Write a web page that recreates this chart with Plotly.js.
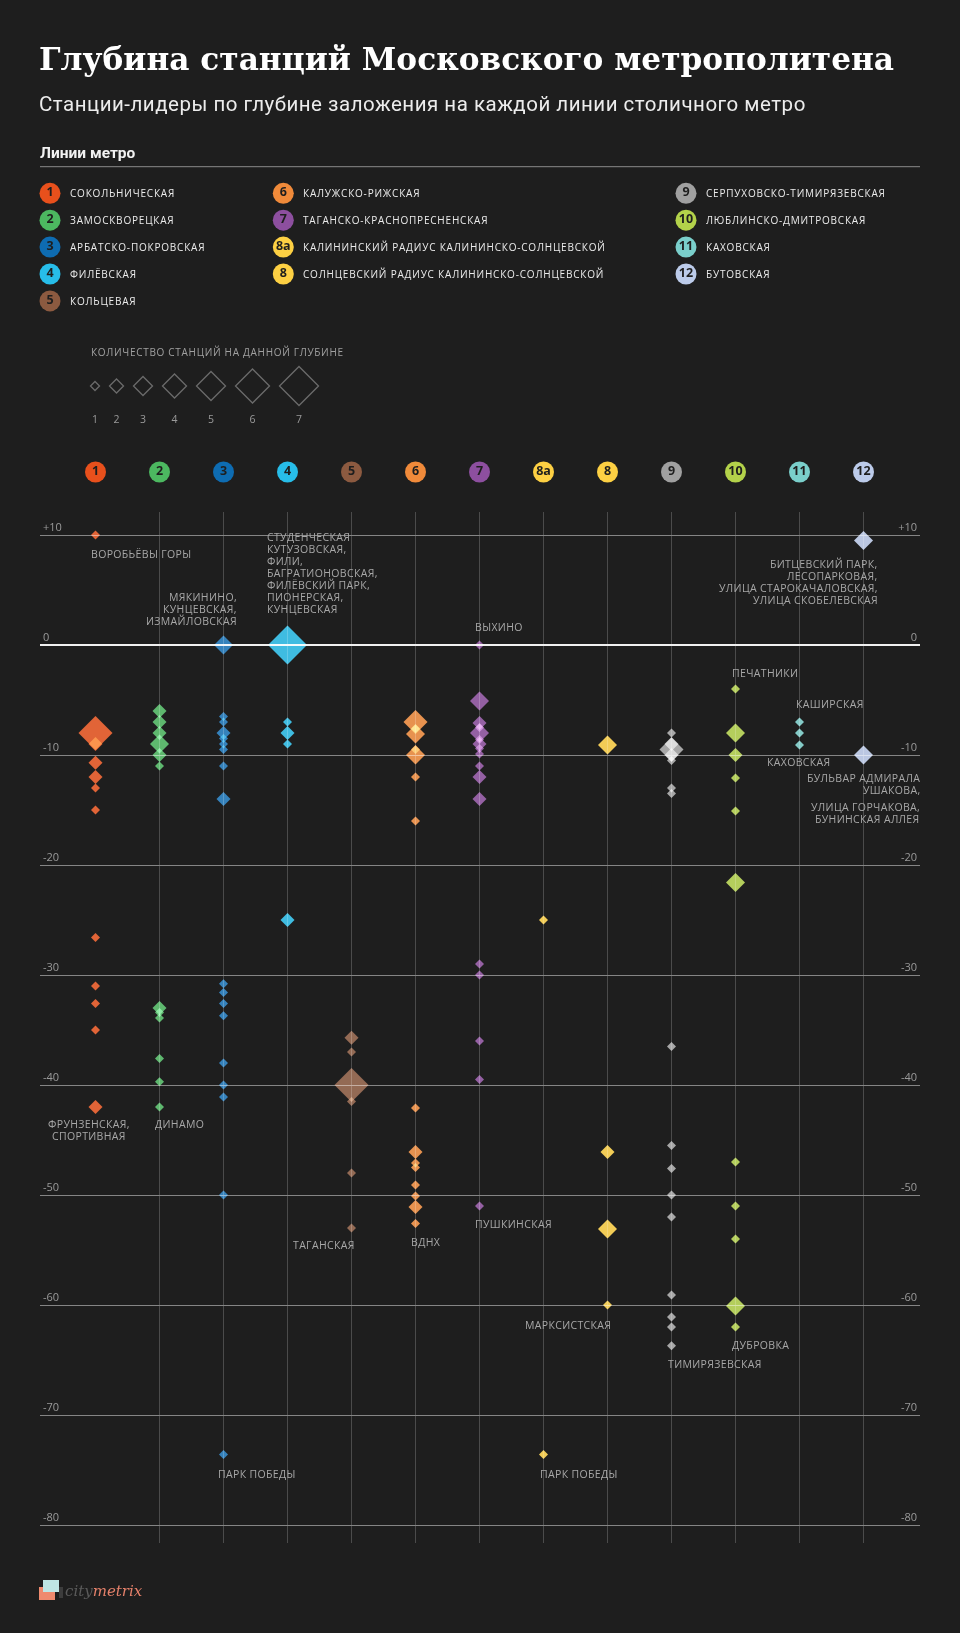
<!DOCTYPE html>
<html lang="ru">
<head>
<meta charset="utf-8">
<title>Глубина станций Московского метрополитена</title>
<script src="https://cdn.plot.ly/plotly-3.0.1.min.js"></script>
<style>
  html, body { margin:0; padding:0; background:#1e1e1e; }
  #chart { width:960px; height:1633px; }
  g[class*="tracedepth"] path.point { mix-blend-mode: screen; }
</style>
</head>
<body>
<div id="chart"></div>
<script>
// ================= DATA =================
const lines = ['1','2','3','4','5','6','7','8а','8','9','10','11','12'];
const lineNames = [
  'СОКОЛЬНИЧЕСКАЯ','ЗАМОСКВОРЕЦКАЯ','АРБАТСКО-ПОКРОВСКАЯ','ФИЛЁВСКАЯ','КОЛЬЦЕВАЯ',
  'КАЛУЖСКО-РИЖСКАЯ','ТАГАНСКО-КРАСНОПРЕСНЕНСКАЯ','КАЛИНИНСКИЙ РАДИУС КАЛИНИНСКО-СОЛНЦЕВСКОЙ',
  'СОЛНЦЕВСКИЙ РАДИУС КАЛИНИНСКО-СОЛНЦЕВСКОЙ','СЕРПУХОВСКО-ТИМИРЯЗЕВСКАЯ','ЛЮБЛИНСКО-ДМИТРОВСКАЯ',
  'КАХОВСКАЯ','БУТОВСКАЯ'
];

// depth of station (m) and number of stations at that depth, per line
const depth_1  = [10, -8, -9, -10.7, -12, -13, -15, -26.6, -31, -32.6, -35, -42];
const count_1  = [1, 6, 2, 2, 2, 1, 1, 1, 1, 1, 1, 2];
const depth_2  = [-6, -7, -8, -9, -10, -11, -33, -33.4, -33.9, -37.6, -39.7, -42];
const count_2  = [2, 2, 2, 3, 2, 1, 2, 1, 1, 1, 1, 1];
const depth_3  = [0, -6.5, -7, -8, -8.5, -9, -9.5, -11, -14, -30.8, -31.6, -32.6, -33.7, -38, -40, -41.1, -50, -73.6];
const count_3  = [3, 1, 1, 2, 1, 1, 1, 1, 2, 1, 1, 1, 1, 1, 1, 1, 1, 1];
const depth_4  = [0, -7, -8, -9, -25];
const count_4  = [7, 1, 2, 1, 2];
const depth_5  = [-35.7, -37, -40, -41.5, -48, -53];
const count_5  = [2, 1, 6, 1, 1, 1];
const depth_6  = [-7, -7.6, -8.1, -9.5, -10, -12, -16, -42.1, -46.1, -47.1, -47.5, -49.1, -50.1, -51.1, -52.6];
const count_6  = [4, 1, 3, 1, 3, 1, 1, 1, 2, 1, 1, 1, 1, 2, 1];
const depth_7  = [0, -5.1, -7.1, -7.5, -8, -8.6, -9, -9.4, -9.9, -11, -12, -14, -29, -30, -36, -39.5, -51];
const count_7  = [1, 3, 2, 1, 3, 1, 2, 1, 1, 1, 2, 2, 1, 1, 1, 1, 1];
const depth_8a = [-25, -73.6];
const count_8a = [1, 1];
const depth_8  = [-9.1, -46.1, -53.1, -60];
const count_8  = [3, 2, 3, 1];
const depth_9  = [-8, -9, -9.5, -10, -10.5, -13, -13.5, -36.5, -45.5, -47.6, -50, -52, -59.1, -61.1, -62, -63.7];
const count_9  = [1, 2, 4, 2, 1, 1, 1, 1, 1, 1, 1, 1, 1, 1, 1, 1];
const depth_10 = [-4, -8, -10, -12.1, -15.1, -21.6, -47, -51, -54, -60.1, -62];
const count_10 = [1, 3, 2, 1, 1, 3, 1, 1, 1, 3, 1];
const depth_11 = [-7, -8, -9.1];
const count_11 = [1, 1, 1];
const depth_12 = [9.5, -10];
const count_12 = [3, 3];

const depths = [depth_1, depth_2, depth_3, depth_4, depth_5, depth_6, depth_7, depth_8a, depth_8, depth_9, depth_10, depth_11, depth_12];
const counts = [count_1, count_2, count_3, count_4, count_5, count_6, count_7, count_8a, count_8, count_9, count_10, count_11, count_12];

const tickVals = [10, 0, -10, -20, -30, -40, -50, -60, -70, -80];
const tickText = ['+10', '0', '-10', '-20', '-30', '-40', '-50', '-60', '-70', '-80'];

const sizeLegendTitle = 'КОЛИЧЕСТВО СТАНЦИЙ НА ДАННОЙ ГЛУБИНЕ';
const sizeLegendCounts = [1, 2, 3, 4, 5, 6, 7];

const stationLabels = [
  ['ВОРОБЬЁВЫ ГОРЫ'],
  ['СТУДЕНЧЕСКАЯ','КУТУЗОВСКАЯ,','ФИЛИ,','БАГРАТИОНОВСКАЯ,','ФИЛЁВСКИЙ ПАРК,','ПИОНЕРСКАЯ,','КУНЦЕВСКАЯ'],
  ['МЯКИНИНО,','КУНЦЕВСКАЯ,','ИЗМАЙЛОВСКАЯ'],
  ['ВЫХИНО'],
  ['БИТЦЕВСКИЙ ПАРК,','ЛЕСОПАРКОВАЯ,','УЛИЦА СТАРОКАЧАЛОВСКАЯ,','УЛИЦА СКОБЕЛЕВСКАЯ'],
  ['ПЕЧАТНИКИ'],
  ['КАШИРСКАЯ'],
  ['КАХОВСКАЯ'],
  ['БУЛЬВАР АДМИРАЛА','УШАКОВА,'],
  ['УЛИЦА ГОРЧАКОВА,','БУНИНСКАЯ АЛЛЕЯ'],
  ['ФРУНЗЕНСКАЯ,','СПОРТИВНАЯ'],
  ['ДИНАМО'],
  ['ТАГАНСКАЯ'],
  ['ВДНХ'],
  ['ПУШКИНСКАЯ'],
  ['МАРКСИСТСКАЯ'],
  ['ДУБРОВКА'],
  ['ТИМИРЯЗЕВСКАЯ'],
  ['ПАРК ПОБЕДЫ'],
  ['ПАРК ПОБЕДЫ']
];

const titleText = 'Глубина станций Московского метрополитена';
const subtitleText = 'Станции-лидеры по глубине заложения на каждой линии столичного метро';
const legendTitle = 'Линии метро';

// ================= STYLE / LAYOUT =================
const W = 960, H = 1633;
const lineColors = ['#e9531d','#4cb860','#1b77bd','#27bde9','#8c5a40','#f18b3b','#8d4f9f',
                    '#fdd043','#fdd043','#a3a3a3','#b3d24a','#7acfcb','#bccbea'];
const badgeColors = ['#e8501c','#4cb860','#0e6cb2','#27bde9','#8c5a40','#f08a3a','#8d4f9f',
                     '#fdd043','#fdd043','#a0a0a0','#b3d24a','#7acfcb','#bccbea'];

const Y0PX = 645, PXPERM = 11;
const yOf = py => (Y0PX - py) / PXPERM;
const yRange = [yOf(H), yOf(0)];
const PLOT_L = 40, PLOT_R = 920, COL0 = 95.5, COLSTEP = 64;
const xRange = [(PLOT_L - COL0) / COLSTEP, (PLOT_R - COL0) / COLSTEP];
const sizeFor = n => (2 + 2.5 * n) / 0.65;

const LABEL_FONT = {family: 'Open Sans, Noto Sans, sans-serif', size: 10.5, color: '#a8a8a8'};
const spaced = (t, s) => '<span style="letter-spacing:' + s + 'px">' + t + '</span>';

function ann(text, x, y, anchor, font) {
  return {xref: 'paper', yref: 'paper', x: x / W, y: 1 - y / H, text: text, showarrow: false,
          xanchor: anchor || 'left', yanchor: 'middle', borderpad: 0, borderwidth: 0, font: font};
}

// label layout (pixel anchor of first line, alignment)
const labelPos = [
  {x: 91,    y: 554.3, a: 'left'},
  {x: 266.7, y: 536.7, a: 'left'},
  {x: 236.5, y: 597,   a: 'right'},
  {x: 475,   y: 626.7, a: 'left'},
  {x: 878.3, y: 564.3, a: 'right'},
  {x: 731.7, y: 673.3, a: 'left'},
  {x: 796,   y: 704.3, a: 'left'},
  {x: 767.3, y: 761.7, a: 'left'},
  {x: 920,   y: 777.7, a: 'right'},
  {x: 920,   y: 807.3, a: 'right'},
  {x: 88.5,  y: 1124.3, a: 'center'},
  {x: 155,   y: 1124.3, a: 'left'},
  {x: 355,   y: 1245,  a: 'right'},
  {x: 411,   y: 1241.7, a: 'left'},
  {x: 475,   y: 1224,  a: 'left'},
  {x: 611,   y: 1324.7, a: 'right'},
  {x: 732,   y: 1344.7, a: 'left'},
  {x: 667.5, y: 1363.7, a: 'left'},
  {x: 218,   y: 1473.7, a: 'left'},
  {x: 539.5, y: 1473.7, a: 'left'}
];
const LABEL_LINE = 12;

const traces = [];

// depth markers
lines.forEach((ln, i) => {
  traces.push({
    type: 'scatter', mode: 'markers', uid: 'depth' + i,
    x: depths[i].map(() => ln), y: depths[i],
    marker: {symbol: 'diamond', size: counts[i].map(sizeFor), color: lineColors[i], opacity: 0.95, line: {width: 0}},
    xaxis: 'x', yaxis: 'y', hoverinfo: 'skip', showlegend: false, cliponaxis: false
  });
});

// column header badges
const HEADER_Y = yOf(472);
traces.push({
  type: 'scatter', mode: 'markers+text', x: lines, y: lines.map(() => HEADER_Y),
  text: lines, textposition: 'middle center',
  textfont: {family: 'Open Sans, sans-serif', size: 12.5, color: '#1e1e1e', weight: 700},
  marker: {symbol: 'circle', size: 21, color: badgeColors, line: {width: 0}},
  xaxis: 'x', yaxis: 'y', hoverinfo: 'skip', showlegend: false, cliponaxis: false
});

// right-hand axis labels carrier
traces.push({type: 'scatter', mode: 'markers', x: [], y: [], xaxis: 'x', yaxis: 'y2', showlegend: false, hoverinfo: 'skip'});

// line legend (pixel overlay axes)
const legendCols = [{start: 0, n: 5, cx: 50}, {start: 5, n: 4, cx: 283.3}, {start: 9, n: 4, cx: 686}];
const LEG_Y0 = 193.3, LEG_STEP = 26.9;
const legX = [], legY = [];
lines.forEach((ln, i) => {
  const c = legendCols.find(cc => i >= cc.start && i < cc.start + cc.n);
  legX.push(c.cx); legY.push(LEG_Y0 + (i - c.start) * LEG_STEP);
});
traces.push({
  type: 'scatter', mode: 'markers+text', x: legX, y: legY, text: lines, textposition: 'middle center',
  textfont: {family: 'Open Sans, sans-serif', size: 12.5, color: '#1e1e1e', weight: 700},
  marker: {symbol: 'circle', size: 21, color: badgeColors, line: {width: 0}},
  xaxis: 'x2', yaxis: 'y3', hoverinfo: 'skip', showlegend: false, cliponaxis: false
});

// size legend
const SL_Y = 386, SL_NUM_Y = 420, SL_X0 = 95, SL_GAP = 10;
const slX = [];
sizeLegendCounts.forEach((n, i) => {
  if (i === 0) slX.push(SL_X0);
  else {
    const hPrev = sizeFor(sizeLegendCounts[i - 1]) * 0.65, h = sizeFor(n) * 0.65;
    slX.push(slX[i - 1] + hPrev + h + SL_GAP);
  }
});
traces.push({
  type: 'scatter', mode: 'markers', x: slX, y: slX.map(() => SL_Y),
  marker: {symbol: 'diamond-open', size: sizeLegendCounts.map(sizeFor), color: '#8c8c8c', line: {width: 1.3, color: '#8c8c8c'}},
  xaxis: 'x2', yaxis: 'y3', hoverinfo: 'skip', showlegend: false, cliponaxis: false
});
traces.push({
  type: 'scatter', mode: 'text', x: slX, y: slX.map(() => SL_NUM_Y), text: sizeLegendCounts.map(String),
  textposition: 'middle center', textfont: {family: 'Open Sans, sans-serif', size: 10.5, color: '#9a9a9a'},
  xaxis: 'x2', yaxis: 'y3', hoverinfo: 'skip', showlegend: false, cliponaxis: false
});

// ---------- shapes ----------
const shapes = [];
lines.forEach(ln => {
  shapes.push({type: 'line', xref: 'x', yref: 'y', x0: ln, x1: ln, y0: yOf(512), y1: yOf(1543),
               line: {color: '#4b4b4b', width: 1}, layer: 'below'});
});
shapes.push({type: 'line', xref: 'paper', yref: 'paper', x0: 40 / W, x1: 920 / W, y0: 1 - 166.7 / H, y1: 1 - 166.7 / H,
             line: {color: '#8a8a8a', width: 1}});
// logo
shapes.push({type: 'rect', xref: 'paper', yref: 'paper', x0: 39 / W, x1: 55 / W, y0: 1 - 1600 / H, y1: 1 - 1587 / H,
             fillcolor: '#ef8a6e', line: {width: 0}});
shapes.push({type: 'rect', xref: 'paper', yref: 'paper', x0: 43 / W, x1: 59 / W, y0: 1 - 1592 / H, y1: 1 - 1580 / H,
             fillcolor: '#bfe6e4', line: {width: 0}});
shapes.push({type: 'rect', xref: 'paper', yref: 'paper', x0: 59 / W, x1: 63 / W, y0: 1 - 1598 / H, y1: 1 - 1587 / H,
             fillcolor: '#3c3c3c', line: {width: 0}});

// ---------- annotations ----------
const annotations = [];
annotations.push(ann(titleText, 39, 59, 'left', {family: 'DejaVu Serif, serif', size: 31.2, color: '#ffffff', weight: 700}));
annotations.push(ann(spaced(subtitleText, 0.5), 39, 104, 'left', {family: 'Roboto, sans-serif', size: 20.5, color: '#ececec'}));
annotations.push(ann(legendTitle, 40, 153, 'left', {family: 'Roboto, sans-serif', size: 15.5, color: '#f2f2f2', weight: 700}));

lineNames.forEach((nm, i) => {
  annotations.push(ann(spaced(nm, 0.8), legX[i] + 20, legY[i], 'left',
    {family: 'Open Sans, sans-serif', size: 10, color: '#ececec', weight: 400}));
});
annotations.push(ann(spaced(sizeLegendTitle, 0.7), 90.5, 351.7, 'left',
  {family: 'Open Sans, sans-serif', size: 10, color: '#a0a0a0'}));

stationLabels.forEach((lbl, i) => {
  const p = labelPos[i];
  lbl.forEach((t, k) => {
    annotations.push(ann(spaced(t, 0.35), p.x, p.y + k * LABEL_LINE, p.a, LABEL_FONT));
  });
});

annotations.push(ann('<i><span style="color:#5a5a5a">city</span><span style="color:#e4806a">metrix</span></i>', 65, 1591, 'left',
  {family: 'DejaVu Serif, serif', size: 15, color: '#5a5a5a'}));

const tickFont = {family: 'Open Sans, sans-serif', size: 11, color: '#9a9a9a'};

const layout = {
  width: W, height: H, margin: {l: 0, r: 0, t: 0, b: 0, pad: 0},
  paper_bgcolor: '#1e1e1e', plot_bgcolor: '#1e1e1e', showlegend: false,
  xaxis: {type: 'category', categoryorder: 'array', categoryarray: lines, domain: [PLOT_L / W, PLOT_R / W],
          range: xRange, showgrid: false, zeroline: false, showticklabels: false, ticks: '', showline: false, fixedrange: true},
  yaxis: {domain: [0, 1], range: yRange, tickmode: 'array', tickvals: tickVals, ticktext: tickText,
          showgrid: true, gridcolor: '#858585', gridwidth: 1, zeroline: true, zerolinecolor: '#f0f0f0', zerolinewidth: 1.6,
          ticks: '', showline: false, ticklabelposition: 'inside top', ticklabeloverflow: 'allow', tickfont: tickFont, fixedrange: true},
  yaxis2: {overlaying: 'y', side: 'right', anchor: 'x', range: yRange, tickmode: 'array', tickvals: tickVals, ticktext: tickText,
           showgrid: false, zeroline: false, ticks: '', showline: false, ticklabelposition: 'inside top', ticklabeloverflow: 'allow',
           tickfont: tickFont, fixedrange: true},
  xaxis2: {overlaying: 'x', range: [PLOT_L, PLOT_R], visible: false, fixedrange: true},
  yaxis3: {overlaying: 'y', range: [H, 0], visible: false, fixedrange: true},
  shapes: shapes,
  annotations: annotations
};

Plotly.newPlot('chart', traces, layout, {displayModeBar: false, staticPlot: true});
</script>
</body>
</html>
